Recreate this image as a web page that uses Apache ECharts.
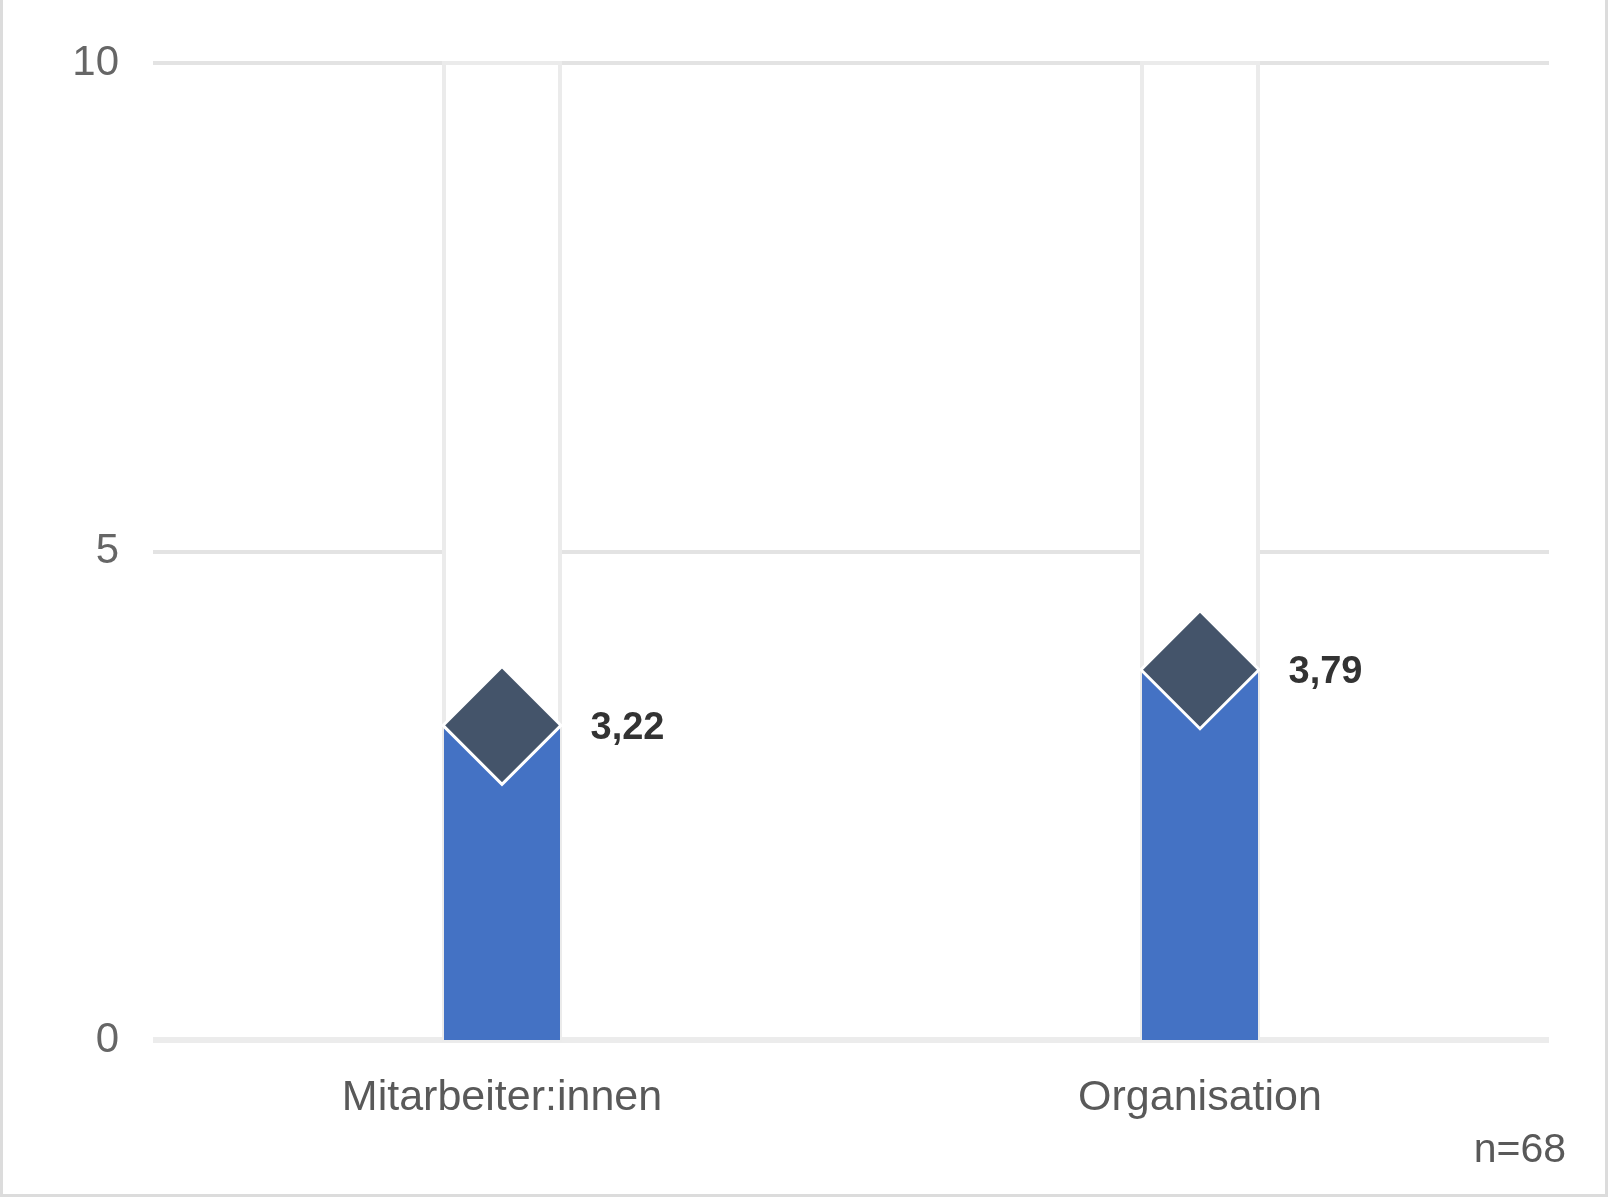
<!DOCTYPE html>
<html>
<head>
<meta charset="utf-8">
<script src="https://cdn.jsdelivr.net/npm/echarts@6/dist/echarts.min.js"></script>
<style>
  html, body { margin: 0; padding: 0; background: #fff; }
  #chart { width: 1608px; height: 1197px; }
</style>
</head>
<body>
<div id="chart"></div>
<script>
// data
var categories = ['Mitarbeiter:innen', 'Organisation'];
var means = [3.22, 3.79];
var sampleNote = 'n=68';

var chart = echarts.init(document.getElementById('chart'));

var fmt = function (p) { return p.value[1].toFixed(2).replace('.', ','); };

chart.setOption({
  backgroundColor: '#fff',
  animation: false,
  grid: { left: 153, right: 59, top: 63, bottom: 157 },
  xAxis: {
    type: 'category',
    data: categories,
    axisTick: { show: false },
    axisLine: { lineStyle: { color: '#ececec', width: 6, cap: 'butt' } },
    axisLabel: { color: '#595959', fontSize: 43, fontFamily: 'Liberation Sans, Arial', margin: 37 }
  },
  yAxis: {
    type: 'value',
    min: 0, max: 10, interval: 5,
    axisLine: { show: false },
    axisTick: { show: false },
    splitLine: { lineStyle: { color: '#e3e3e3', width: 4 } },
    axisLabel: { color: '#666', fontSize: 42, fontFamily: 'Liberation Sans, Arial', margin: 34 }
  },
  series: [
    {
      type: 'bar',
      data: means,
      barWidth: 116,
      itemStyle: { color: '#4472c4' },
      showBackground: true,
      backgroundStyle: { color: '#fff', borderColor: '#ebebeb', borderWidth: 4 },
      z: 2
    },
    {
      type: 'scatter',
      data: categories.map(function (c, i) { return [c, means[i]]; }),
      symbol: 'diamond',
      symbolSize: [118, 118],
      itemStyle: { color: '#44546a', borderColor: '#fff', borderWidth: 3, opacity: 1 },
      label: {
        show: true,
        position: 'right',
        distance: 28,
        offset: [0, 3],
        formatter: fmt,
        color: '#333',
        fontSize: 38,
        fontWeight: 'bold',
        fontFamily: 'Liberation Sans, Arial'
      },
      z: 3
    }
  ],
  graphic: [
    { type: 'text', right: 42, top: 1130, style: { text: sampleNote, fill: '#595959', fontSize: 41, fontFamily: 'Liberation Sans, Arial' } },
    { type: 'line', shape: { x1: 1.5, y1: 0, x2: 1.5, y2: 1196 }, style: { stroke: '#dcdcdc', lineWidth: 3 } },
    { type: 'line', shape: { x1: 1606.5, y1: 0, x2: 1606.5, y2: 1196 }, style: { stroke: '#dcdcdc', lineWidth: 3 } },
    { type: 'line', shape: { x1: 0, y1: 1195.5, x2: 1608, y2: 1195.5 }, style: { stroke: '#dcdcdc', lineWidth: 3 } }
  ]
});
</script>
</body>
</html>
